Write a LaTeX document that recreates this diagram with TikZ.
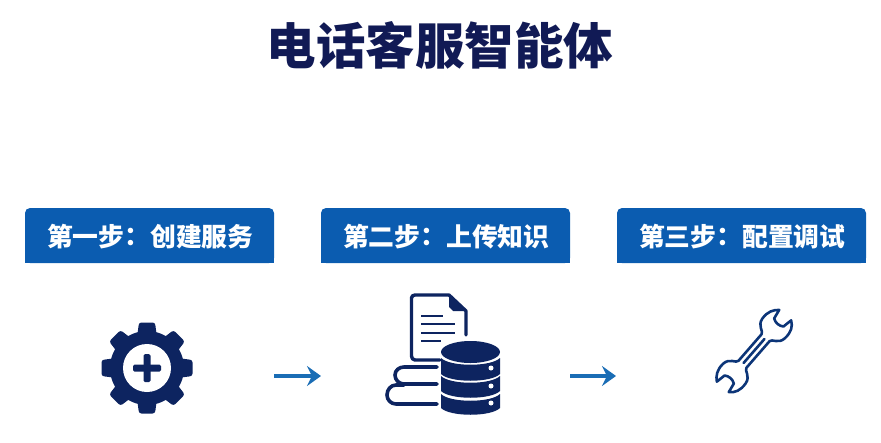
\documentclass[tikz,border=0pt]{standalone}
\usepackage{fontspec}
\setmainfont{Noto Sans CJK SC}[BoldFont={Noto Sans CJK SC Bold}]
\newfontfamily\headfont{Noto Sans CJK SC Black}
\usetikzlibrary{arrows.meta}
\definecolor{titlenavy}{HTML}{111A55}
\definecolor{iconnavy}{HTML}{0D2460}
\definecolor{stepblue}{HTML}{0B5CB0}
\definecolor{arrowblue}{HTML}{1A6DB5}
\tikzset{
  titletext/.style={text=titlenavy,font=\fontsize{49.5}{50}\headfont,inner sep=0pt},
  stepbox/.style={fill=stepblue,text=white,font=\fontsize{25.8}{26}\headfont,
    minimum width=249pt,minimum height=55pt,inner sep=0pt,rounded corners=5pt},
  nextarrow/.style={arrowblue,line width=3.6pt,-{Stealth[length=14pt,width=20pt,inset=5pt]}},
  iconline/.style={iconnavy,line width=3.4pt,line join=round,line cap=round},
  iconthin/.style={iconnavy,line width=2.6pt},
  wrenchline/.style={color=iconnavy!70!stepblue,line width=2.6pt,line join=round,line cap=round},
}
\newcommand{\stepcolon}{\raisebox{1.5pt}{：}}
\begin{document}
\begin{tikzpicture}[x=1pt,y=-1pt]
  \useasboundingbox (0,0) rectangle (881,442);
  \node[titletext] (title) at (440,45) {电话客服智能体};
  % step headers
  \foreach \name/\x/\label in {step1/149.5/第一步\stepcolon 创建服务,step2/445.5/第二步\stepcolon 上传知识,step3/741.5/第三步\stepcolon 配置调试}{
    \fill[stepblue] (\x-124.5,236) rectangle (\x+124.5,263);
    \node[stepbox] (\name) at (\x,235.5) {\hspace{1.5pt}\smash{\raisebox{-11pt}{\label}}};
  }
  % gear
  \fill[iconnavy] (147,368) circle (37);
  \foreach \a in {0,45,...,315}{
    \fill[iconnavy,rounded corners=2.5pt,rotate around={\a:(147,368)}] (136,345) -- (139,322.5) -- (155,322.5) -- (158,345) -- cycle;
  }
  \fill[white] (147,368) circle (24);
  \fill[iconnavy,rounded corners=1.5pt] (143.5,354) rectangle (150.5,382);
  \fill[iconnavy,rounded corners=1.5pt] (133,364.5) rectangle (161,371.5);
  % document
  \draw[iconline] (466,335) -- (466,311) -- (449,295) -- (415,295) to[out=180,in=90] (411.5,298)
    -- (411.5,356) to[out=-90,in=180] (415,360) -- (440,360);
  \fill[iconnavy] (449,295) -- (466,311) -- (453,311) -- (449,307) -- cycle;
  \foreach \y/\xend in {316/443,324/455,333/455,341/441}{
    \draw[iconthin] (421,\y) -- (\xend,\y);
  }
  % books
  \draw[iconline,line width=3.6pt] (437,367) -- (404,367) to[out=180,in=90] (395,375)
    to[out=-90,in=180] (404,384) -- (437,384);
  \draw[iconline,line width=3.6pt] (437,404) -- (396,404) to[out=180,in=-90] (387,395)
    to[out=90,in=180] (396,385) -- (404,385);
  % database
  \fill[iconnavy] (470.5,352) ellipse (29.5 and 11);
  \foreach \ytop/\ybot in {358/374,376/391,394/408}{
    \fill[iconnavy] (441,\ytop) .. controls (450,\ytop+9) and (491,\ytop+9) .. (500,\ytop)
      -- (500,\ybot) .. controls (491,\ybot+9) and (450,\ybot+9) .. (441,\ybot) -- cycle;
  }
  \foreach \y in {368,386,403}{
    \fill[white] (491,\y) circle (2.5);
  }
  % wrench
  \begin{scope}[shift={(754,351)},rotate=49,scale=0.88]
    \draw[wrenchline] (-20,-6) -- (20,-6) .. controls (24,-6) and (24,-16) .. (34,-17)
      .. controls (44,-18) and (50,-14) .. (54,-9) -- (43,-7) .. controls (40,-3) and (40,3) .. (43,7)
      -- (54,9) .. controls (50,15) and (44,18) .. (34,17) .. controls (24,16) and (24,6) .. (20,6)
      -- (-20,6) .. controls (-24,6) and (-24,16) .. (-34,17) .. controls (-44,18) and (-50,15) .. (-54,9)
      -- (-43,7) .. controls (-40,3) and (-40,-3) .. (-43,-7) -- (-54,-9)
      .. controls (-50,-14) and (-44,-18) .. (-34,-17) .. controls (-24,-16) and (-24,-6) .. (-20,-6) -- cycle;
    \draw[wrenchline] (-18,0) -- (18,0);
  \end{scope}
  % arrows
  \coordinate (arrow1a) at (274,376);
  \coordinate (arrow1b) at (321,376);
  \coordinate (arrow2a) at (570,376);
  \coordinate (arrow2b) at (616,376);
  \draw[nextarrow] (arrow1a) -- (arrow1b);
  \draw[nextarrow] (arrow2a) -- (arrow2b);
\end{tikzpicture}
\end{document}
